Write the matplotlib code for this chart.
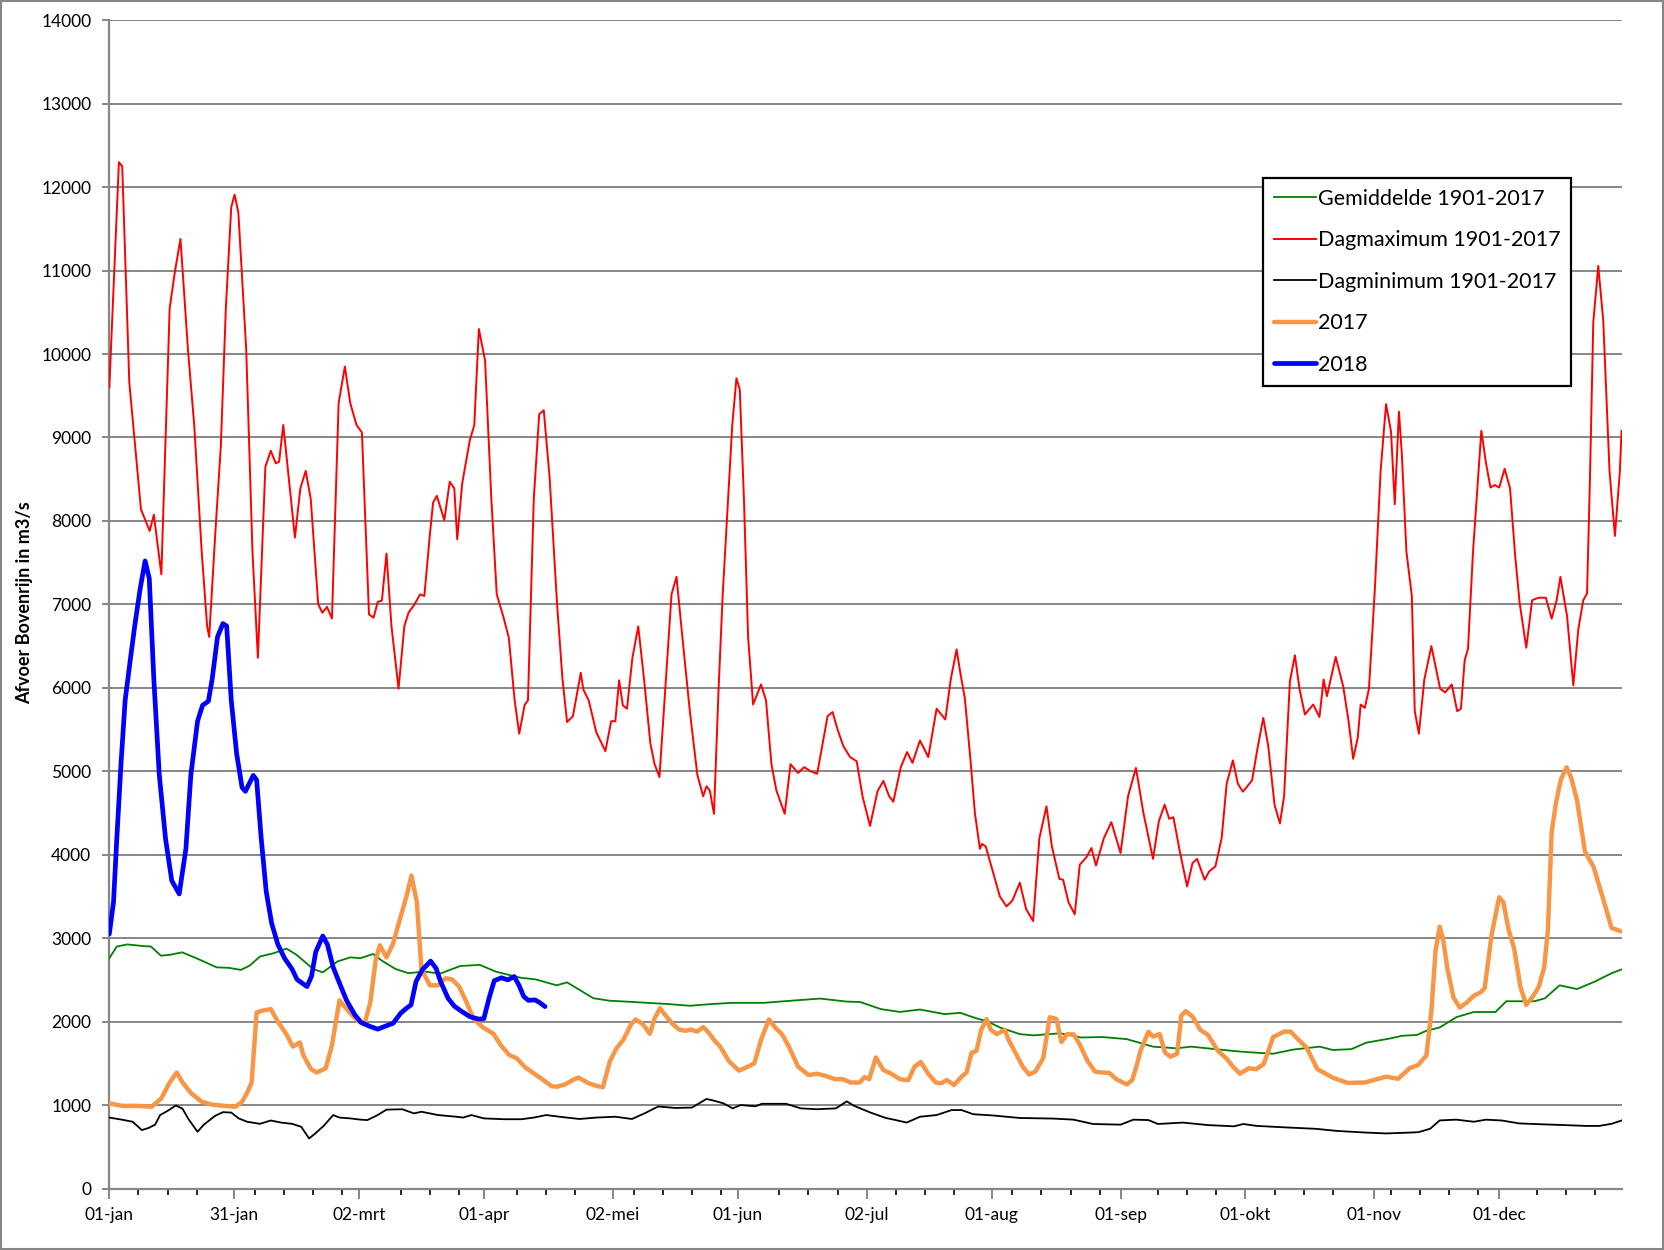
import matplotlib.pyplot as plt
from matplotlib.patches import Rectangle

plt.rcParams['font.family'] = ['Lato', 'DejaVu Sans']

# x-as: dagnummer in het jaar (0 = 01-jan)
tick_days = [0, 30, 60, 90, 121, 151, 182, 212, 243, 273, 304, 334]
tick_labels = ['01-jan', '31-jan', '02-mrt', '01-apr', '02-mei', '01-jun',
               '02-jul', '01-aug', '01-sep', '01-okt', '01-nov', '01-dec']

# Dagmaximum 1901-2017
max_day = [0, 2.3, 3.1, 4.8, 7.6, 9.7, 10.7, 12.5, 14.5, 15.8, 17.1, 18.9, 20.4, 22.2, 23.5, 24,
           25.5, 26.8, 28, 29.3, 30.1, 31, 32.9, 34.4, 35.7, 37.5, 38.8, 40, 40.8, 41.8, 43.1,
           44.6, 45.9, 47.2, 48.4, 50.2, 51.2, 52.3, 53.5, 55.1, 56.6, 57.9, 59.4, 60.7, 62.4,
           63.5, 64.5, 65.5, 66.6, 67.8, 69.5, 70.9, 71.9, 73.2, 74.7, 75.7, 77, 77.8, 78.7,
           80.5, 81.8, 82.9, 83.6, 84.8, 86.6, 87.7, 88.8, 90.3, 91.8, 93.1, 94.7, 96, 97.4,
           98.5, 99.8, 100.6, 102, 103.3, 104.4, 105.8, 107.6, 108.9, 110, 111.4, 113.3, 113.9,
           115.2, 117, 119.2, 120.6, 121.6, 122.5, 123.4, 124.4, 125.7, 127.1, 128.5, 130, 131,
           132.2, 133.6, 135.1, 136.3, 137.7, 139.5, 141.3, 142.7, 143.5, 144.3, 145.3, 146.4,
           147.4, 148.7, 149.7, 150.7, 151.5, 152.5, 153.5, 154.7, 156.6, 157.8, 159.1, 160.3,
           162.3, 163.7, 165.5, 167, 168.5, 170.1, 171.3, 172.6, 173.8, 175, 176.4, 178, 179.6,
           181, 182.8, 184.6, 186, 187.4, 188.4, 190.2, 191.7, 193, 194.8, 196.8, 198.8, 200.9,
           202.2, 203.6, 204.6, 205.6, 207, 208, 209.2, 209.7, 210.6, 212.4, 214, 215.6, 217,
           218.8, 220.3, 222, 223.5, 225.2, 226.5, 228.3, 229.2, 230.5, 232, 233.2, 234.8, 236,
           237.1, 239, 240.8, 243, 244.8, 246.7, 248.5, 250.8, 252.2, 253.6, 254.7, 255.7, 257.2,
           259, 260.3, 261.4, 263.2, 264.3, 265.8, 267.3, 268.5, 270, 271.2, 272.4, 274.6, 276,
           277.3, 278.5, 280, 281.3, 282.3, 283.7, 284.9, 286, 287.3, 289.3, 290.8, 291.8, 292.6,
           294.7, 296.5, 297.8, 298.9, 300, 300.7, 301.7, 302.7, 304.1, 305.5, 306.8, 308, 308.9,
           309.9, 310.6, 311.7, 313, 313.7, 314.7, 316, 317.7, 319.8, 321, 322.6, 323.9, 324.8,
           325.7, 326.5, 327.7, 329.7, 330.8, 331.9, 332.9, 334, 335.3, 336.6, 337.8, 338.9,
           340.5, 341.9, 343.5, 345.2, 346.6, 347.8, 348.7, 350.3, 351.8, 353, 354.2, 355.1,
           355.8, 356.6, 357.8, 359, 360.5, 361.8, 363, 363.4]
max_q = [9600, 12300, 12250, 9660, 8140, 7880, 8075, 7360, 10550, 11000, 11380, 10050, 9150, 7630,
         6740, 6610, 7880, 8900, 10550, 11760, 11910, 11700, 10050, 7630, 6360, 8650, 8840, 8690,
         8710, 9150, 8520, 7800, 8390, 8600, 8265, 7000, 6900, 6970, 6830, 9410, 9850, 9410, 9150,
         9060, 6880, 6840, 7030, 7045, 7610, 6740, 5990, 6740, 6900, 6990, 7120, 7100, 7820, 8220,
         8300, 8010, 8470, 8390, 7780, 8450, 8960, 9150, 10300, 9920, 8265, 7120, 6850, 6600, 5850,
         5450, 5795, 5850, 8265, 9280, 9326, 8520, 7000, 6100, 5590, 5660, 6180, 5980, 5850, 5470,
         5240, 5600, 5600, 6090, 5790, 5750, 6360, 6737, 6100, 5340, 5090, 4930, 5980, 7120, 7330,
         6610, 5720, 4960, 4700, 4820, 4770, 4490, 5980, 7120, 8265, 9150, 9710, 9575, 8265, 6610,
         5800, 6040, 5850, 5090, 4770, 4490, 5085, 4980, 5050, 5000, 4970, 5300, 5660, 5710, 5500,
         5300, 5170, 5120, 4700, 4345, 4760, 4885, 4700, 4635, 5050, 5230, 5100, 5370, 5170, 5750,
         5620, 6100, 6460, 6150, 5870, 5100, 4500, 4070, 4130, 4100, 3780, 3500, 3380, 3450, 3665,
         3350, 3205, 4200, 4580, 4100, 3710, 3700, 3430, 3285, 3880, 3970, 4080, 3870, 4200, 4390,
         4020, 4700, 5040, 4500, 3950, 4400, 4600, 4430, 4450, 4050, 3620, 3900, 3950, 3700, 3800,
         3860, 4200, 4850, 5130, 4850, 4755, 4890, 5300, 5640, 5300, 4600, 4375, 4700, 6080, 6390,
         5990, 5680, 5800, 5650, 6100, 5900, 6370, 6020, 5600, 5150, 5400, 5800, 5760, 5990, 7170,
         8600, 9400, 9070, 8200, 9310, 8800, 7630, 7100, 5720, 5450, 6100, 6500, 5990, 5945, 6040,
         5720, 5750, 6330, 6470, 7630, 9080, 8700, 8400, 8430, 8400, 8625, 8390, 7600, 7020, 6480,
         7050, 7080, 7080, 6830, 7050, 7330, 6860, 6030, 6700, 7050, 7130, 8500, 10380, 11055,
         10400, 8600, 7820, 8600, 9080]

# Gemiddelde 1901-2017
mean_day = [0, 1.8, 4.3, 8.2, 10, 12.4, 14.5, 17.5, 20.9, 25.8, 28.6, 31.6, 33.7, 36.2, 39.5, 42.6,
            45, 49, 51.3, 54.8, 57.9, 60.3, 63.4, 65.5, 68.8, 71.9, 75.7, 79.5, 84.3, 89, 93,
            98.7, 102.5, 107.5, 110, 113, 116.3, 120.3, 124.2, 129.3, 134.4, 139.5, 144.6, 149.7,
            157.3, 163.7, 170.8, 177.2, 180.4, 185.4, 190, 194.8, 200.7, 204.5, 208.3, 210.8,
            214, 218.8, 222, 228.5, 233.5, 238.7, 244.5, 250.8, 256.4, 260, 266.7, 272, 276.3,
            279.7, 284.5, 290.9, 294, 298.5, 302, 308, 310.6, 314.2, 316.5, 319.7, 323.7, 327.9,
            333.1, 335.7, 342.5, 345, 348.5, 352.7, 357, 361, 363.4]
mean_q = [2760, 2900, 2925, 2905, 2900, 2790, 2800, 2830, 2760, 2650, 2645, 2620, 2670, 2780, 2820,
          2875, 2800, 2630, 2590, 2720, 2770, 2760, 2810, 2730, 2630, 2580, 2600, 2575, 2666, 2680,
          2597, 2527, 2505, 2435, 2470, 2380, 2280, 2250, 2240, 2225, 2210, 2190, 2210, 2225, 2225,
          2250, 2276, 2240, 2235, 2150, 2116, 2145, 2090, 2105, 2040, 2007, 1930, 1850, 1835, 1860,
          1810, 1815, 1790, 1700, 1680, 1700, 1665, 1640, 1625, 1615, 1665, 1700, 1660, 1670, 1747,
          1800, 1830, 1840, 1890, 1930, 2053, 2115, 2115, 2244, 2244, 2280, 2435, 2390, 2480, 2580,
          2625]

# Dagminimum 1901-2017
min_day = [0, 3, 5.6, 7.8, 9.4, 11, 12.2, 14, 16, 17.6, 19.1, 21.2, 22.7, 25.4, 27.3, 29.3, 31.1,
           33.1, 36.2, 38.8, 41.3, 43.9, 46.1, 48, 49.5, 51.5, 53.8, 55.3, 57.9, 60.4, 62, 64.3,
           66.6, 70.4, 73.2, 75, 79, 83.4, 85, 87, 90, 95, 99, 102, 105, 109, 113, 117, 121.6,
           125.6, 128.6, 131.9, 136, 140, 143.5, 145.5, 147.6, 149.8, 151.7, 155.3, 156.8, 162.6,
           166.2, 170, 174.6, 177.2, 179, 182.8, 186.6, 189, 191.6, 194.8, 198.8, 202.4, 204.8,
           207.6, 212.4, 218.8, 226.8, 231.7, 236.4, 243, 246.1, 249.7, 252, 258, 264, 270.3,
           272.5, 275.7, 283.6, 290, 295, 302, 306.8, 312.5, 314.6, 317.4, 319.7, 323.7, 327.9,
           330.8, 334.6, 338.8, 343.9, 349.7, 354.8, 358, 361, 363.4]
min_q = [850, 825, 800, 700, 725, 765, 880, 930, 995, 955, 825, 680, 765, 870, 915, 910, 840, 800,
         775, 815, 790, 775, 740, 600, 660, 750, 880, 850, 840, 825, 820, 875, 945, 950, 900, 920,
         880, 860, 850, 880, 840, 830, 830, 850, 880, 855, 833, 850, 860, 833, 900, 983, 965, 970,
         1073, 1050, 1020, 960, 1000, 985, 1015, 1015, 960, 950, 960, 1044, 990, 912, 845, 820,
         790, 860, 880, 940, 940, 890, 875, 845, 838, 825, 773, 765, 825, 820, 773, 790, 760, 745,
         773, 750, 730, 715, 690, 670, 660, 670, 675, 716, 816, 825, 800, 825, 815, 780, 770, 760,
         750, 750, 775, 815]

# 2017
y17_day = [0, 3, 6.9, 10.2, 12.5, 14.5, 16.2, 17.6, 19.6, 22.2, 24.7, 27.8, 30.3, 31.9, 33.1, 34.2,
           35.4, 36.7, 38.8, 40.5, 42.6, 44.1, 45.8, 46.6, 48.4, 49.8, 52, 53.5, 55.3, 57.9, 59.7,
           61.3, 62.7, 64, 65, 66.6, 68.1, 69.9, 71.4, 72.6, 73.9, 75, 77, 79, 80.8, 82.4, 84.1,
           85.9, 87.5, 89.8, 92.3, 94.1, 96.1, 97.9, 100, 102, 104, 106.3, 107.6, 109.4, 111.4,
           112.7, 115.2, 117.4, 118.6, 120.3, 121.9, 123.5, 125.4, 126.5, 128.2, 129.9, 131,
           132.3, 133.9, 135.2, 136.9, 138.5, 139.7, 141.3, 142.7, 144, 145.3, 146.8, 148.9,
           151.3, 153, 155, 156.6, 158.5, 160, 161.7, 163.3, 165.5, 168, 170.1, 172.1, 174.4,
           176.2, 178.2, 180.3, 181.5, 182.6, 184.2, 186, 187.9, 190, 192, 193.5, 195, 196.8,
           198.6, 200, 201.2, 203, 204.7, 206, 207.2, 208.4, 209.5, 210.8, 211.8, 213.2, 215.2,
           216.2, 218, 219.5, 221, 222.5, 224.4, 226, 227.6, 228.8, 230.2, 231.8, 233.3, 235.1,
           236.9, 238.6, 240.3, 242, 244.5, 245.8, 246.8, 247.8, 249.7, 250.8, 252.4, 253.7,
           255, 256.6, 257.6, 258.7, 260.3, 262.2, 264, 266.4, 268.5, 270, 271.7, 273.8, 275.6,
           277.4, 279.7, 282.3, 283.9, 285.3, 287.7, 290.3, 294.1, 297.6, 301.7, 306.8, 309.7,
           312.5, 314.5, 316.5, 317.7, 318.7, 319.7, 320.5, 321.5, 323, 324.5, 326.1, 327.9,
           329.5, 330.5, 332.2, 334, 335, 336.2, 337.6, 339.1, 340.5, 342.2, 343.5, 344.8, 345.7,
           346.6, 347.6, 348.8, 350.2, 351.3, 352.7, 354.6, 356.7, 359, 361, 363.4]
y17_q = [1020, 990, 990, 980, 1080, 1270, 1390, 1270, 1145, 1040, 1005, 990, 980, 1040, 1145, 1270,
         2110, 2130, 2150, 2000, 1845, 1700, 1750, 1600, 1435, 1390, 1440, 1715, 2255, 2100, 2010,
         1970, 2225, 2735, 2915, 2770, 2925, 3240, 3500, 3750, 3430, 2630, 2435, 2435, 2520, 2505,
         2415, 2225, 2035, 1930, 1855, 1715, 1600, 1560, 1450, 1380, 1310, 1225, 1220, 1245, 1300,
         1330, 1260, 1225, 1215, 1525, 1683, 1780, 1970, 2025, 1970, 1854, 2035, 2160, 2060, 1980,
         1905, 1890, 1905, 1880, 1935, 1870, 1780, 1700, 1525, 1412, 1450, 1500, 1780, 2025, 1930,
         1845, 1700, 1460, 1360, 1375, 1350, 1310, 1310, 1270, 1270, 1335, 1310, 1570, 1420, 1375,
         1310, 1297, 1460, 1515, 1375, 1270, 1262, 1300, 1240, 1335, 1390, 1627, 1650, 1900, 2030,
         1905, 1850, 1900, 1770, 1600, 1460, 1367, 1400, 1560, 2053, 2030, 1755, 1850, 1845, 1715,
         1525, 1400, 1390, 1385, 1310, 1247, 1300, 1460, 1650, 1878, 1820, 1850, 1628, 1580, 1615,
         2070, 2125, 2060, 1900, 1840, 1650, 1556, 1460, 1376, 1440, 1430, 1490, 1816, 1880, 1880,
         1805, 1690, 1430, 1326, 1265, 1270, 1340, 1315, 1442, 1480, 1594, 2130, 2850, 3138, 2990,
         2650, 2290, 2168, 2225, 2310, 2350, 2400, 3050, 3490, 3430, 3115, 2870, 2415, 2200, 2310,
         2415, 2650, 3100, 4270, 4610, 4900, 5048, 4920, 4650, 4040, 3850, 3466, 3123, 3080]

# 2018 (t/m half april)
y18_day = [0, 1, 1.8, 2.8, 3.8, 5.1, 6.1, 7.4, 8.6, 9.6, 10.7, 12, 13.5, 15, 16.8, 18.4, 19.6,
           21.2, 22.4, 23.8, 24.7, 26, 27.3, 28.2, 29.3, 30.6, 31.9, 32.7, 34.6, 35.4, 36.5,
           37.7, 39, 40.5, 42.1, 43.9, 45.1, 47.5, 48.6, 49.6, 51.3, 52.4, 53.8, 55.4, 57,
           59, 60.5, 62.5, 64.5, 66.3, 68.2, 70, 71.4, 72.5, 73.7, 75.2, 77.2, 78.5, 79.6,
           81.4, 82.9, 84.6, 86.6, 88.7, 90, 91.3, 92.5, 94.2, 95.8, 97.3, 98.4, 99.6, 100.7,
           102.3, 103.5, 104.7]
y18_q = [3050, 3430, 4195, 5085, 5850, 6360, 6740, 7185, 7520, 7310, 6100, 4960, 4195, 3690, 3530,
         4070, 4960, 5600, 5790, 5840, 6100, 6610, 6770, 6740, 5850, 5210, 4805, 4760, 4950, 4895,
         4195, 3560, 3180, 2925, 2760, 2630, 2505, 2420, 2545, 2835, 3025, 2925, 2650, 2450, 2255,
         2080, 1990, 1945, 1910, 1945, 1980, 2100, 2160, 2200, 2480, 2620, 2725, 2640, 2480, 2280,
         2185, 2125, 2060, 2030, 2035, 2290, 2490, 2525, 2500, 2540, 2440, 2300, 2255, 2260, 2225,
         2180]

fig = plt.figure(figsize=(16.64, 12.5), dpi=100)
ax = fig.add_axes([0.0657, 0.0492, 0.9088, 0.9346])

grey = '#868686'
ax.plot(mean_day, mean_q, color='#008000', lw=1.3, label='Gemiddelde 1901-2017', zorder=3,
        solid_joinstyle='round')
ax.plot(max_day, max_q, color='#ff0000', lw=1.4, label='Dagmaximum 1901-2017', zorder=3,
        solid_joinstyle='round')
ax.plot(min_day, min_q, color='black', lw=1.3, label='Dagminimum 1901-2017', zorder=3,
        solid_joinstyle='round')
ax.plot(y17_day, y17_q, color='#f79646', lw=3.2, label='2017', zorder=4,
        solid_joinstyle='round', solid_capstyle='round')
ax.plot(y18_day, y18_q, color='#0000ff', lw=3.4, label='2018', zorder=5,
        solid_joinstyle='round', solid_capstyle='round')

ax.set_xlim(0, 363.4)
ax.set_ylim(0, 14000)
ax.set_yticks(range(0, 14001, 1000))
ax.set_xticks(tick_days)
ax.set_xticklabels(tick_labels)
minor = [d for d in range(7, 364, 7) if min(abs(d - t) for t in tick_days) > 3]
ax.set_xticks(minor, minor=True)

ax.grid(axis='y', color=grey, lw=1.4)
ax.set_axisbelow(True)
for side in ['top', 'right']:
    ax.spines[side].set_visible(False)
for side in ['left', 'bottom']:
    ax.spines[side].set_color(grey)
    ax.spines[side].set_linewidth(1.6)
ax.tick_params(axis='both', colors=grey, labelcolor='black', labelsize=12.5, width=1.4)
ax.tick_params(axis='x', which='major', length=7, pad=6)
ax.tick_params(axis='x', which='minor', length=4, width=1.2)
ax.tick_params(axis='y', length=5, pad=8)

fig.text(0.0145, 0.5176, 'Afvoer Bovenrijn in m3/s', rotation=90, ha='center', va='center',
         fontsize=13, fontweight='bold')

leg = ax.legend(loc='upper left', bbox_to_anchor=(0.759, 0.8576), bbox_transform=fig.transFigure,
                borderaxespad=0, fontsize=15.5, frameon=True, fancybox=False, framealpha=1,
                edgecolor='black', handlelength=1.95, handletextpad=0.1, labelspacing=1.0,
                borderpad=0.5)
leg.get_frame().set_linewidth(1.6)

fig.patches.append(Rectangle((0.0005, 0.0005), 0.999, 0.999, transform=fig.transFigure,
                             fill=False, edgecolor=grey, lw=1.5))

fig.savefig('out.png', dpi=100)
